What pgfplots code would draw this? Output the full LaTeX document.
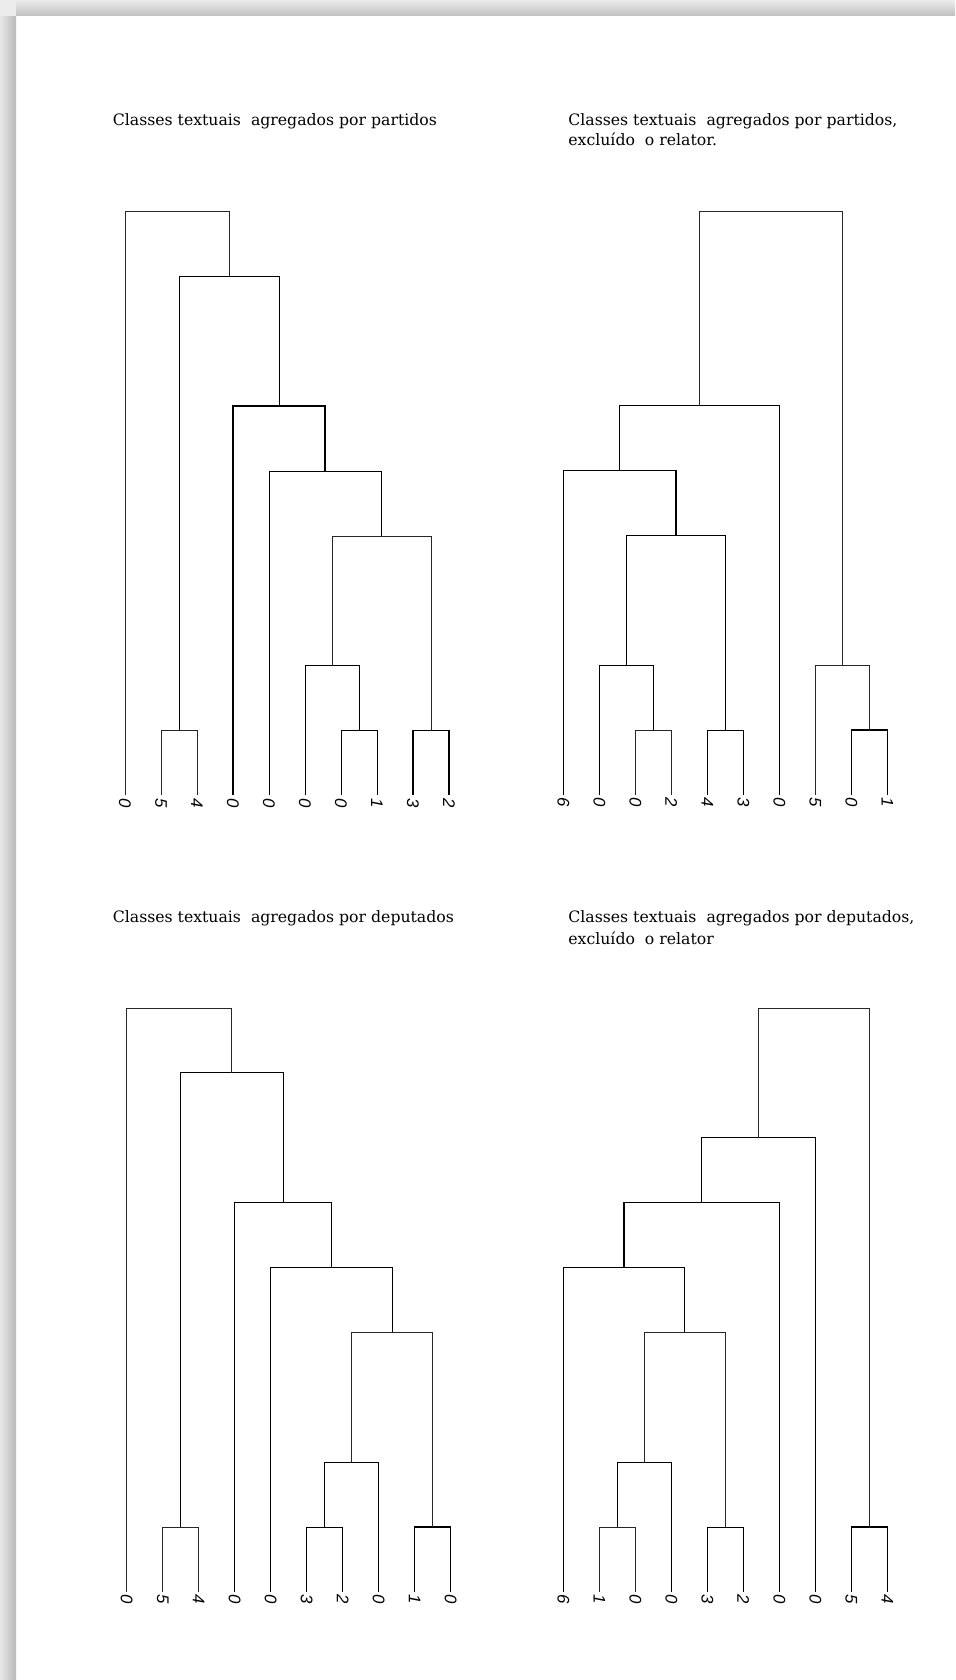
\documentclass[border=0pt]{standalone}
\usepackage{fontspec}
\setmainfont{DejaVu Serif}
\newfontfamily\labfont{Liberation Sans}
\usepackage{pgfplots}
\pgfplotsset{compat=1.18}
\pgfplotsset{dend/.style={
  scale only axis, width=162pt, height=292pt,
  xmin=1, xmax=10, ymin=0, ymax=9, enlargelimits=false, clip=false,
  axis x line*=bottom, hide y axis, x axis line style={draw=none},
  xtick={1,...,10}, major tick length=0pt, xtick style={draw=none},
  xticklabel style={rotate=-90, anchor=west, inner sep=1.2pt,
    font=\labfont\itshape\fontsize{8.4}{8.4}\selectfont},
  cycle list={{black!85, solid, line width=0.75pt, mark=none}},
  anchor=south west}}
\begin{document}
\begin{tikzpicture}[x=1pt,y=1pt]
\useasboundingbox (0,0) rectangle (477.5,840);
\fill[white] (0,0) rectangle (477.5,840);
% page shadow
\shade[left color=gray!18, right color=gray!55] (0,0) rectangle (8,840);
\shade[top color=gray!15, bottom color=gray!50] (0,832) rectangle (477.5,840);
\fill[gray!15] (0,832) rectangle (8,840);

\def\tfont{\fontsize{7.85}{10}\selectfont}
\node[anchor=base west, inner sep=0] at (56.25,777) {\tfont Classes textuais\ \ agregados\ por\ partidos};
\node[anchor=base west, inner sep=0] at (284,777) {\tfont Classes textuais\ \ agregados\ por\ partidos,};
\node[anchor=base west, inner sep=0] at (284,767) {\tfont excluído\ \ o relator.};
\node[anchor=base west, inner sep=0] at (56.25,378.5) {\tfont Classes textuais\ \ agregados\ por\ deputados};
\node[anchor=base west, inner sep=0] at (284,378.5) {\tfont Classes textuais\ \ agregados\ por\ deputados,};
\node[anchor=base west, inner sep=0] at (284,367.5) {\tfont excluído\ \ o relator};

% Top left: por partidos
\begin{axis}[dend, at={(62.5pt,442.25pt)}, xticklabels={0,5,4,0,0,0,0,1,3,2}]
\addplot coordinates {(2,0) (2,1) (3,1) (3,0)};
\addplot coordinates {(7,0) (7,1) (8,1) (8,0)};
\addplot coordinates {(9,0) (9,1) (10,1) (10,0)};
\addplot coordinates {(6,0) (6,2) (7.5,2) (7.5,1)};
\addplot coordinates {(6.75,2) (6.75,4) (9.5,4) (9.5,1)};
\addplot coordinates {(5,0) (5,5) (8.125,5) (8.125,4)};
\addplot coordinates {(4,0) (4,6) (6.5625,6) (6.5625,5)};
\addplot coordinates {(2.5,1) (2.5,8) (5.28,8) (5.28,6)};
\addplot coordinates {(1,0) (1,9) (3.89,9) (3.89,8)};
\end{axis}

% Top right: por partidos, excluido o relator
\begin{axis}[dend, at={(281.65pt,442.5pt)}, xticklabels={6,0,0,2,4,3,0,5,0,1}]
\addplot coordinates {(3,0) (3,1) (4,1) (4,0)};
\addplot coordinates {(5,0) (5,1) (6,1) (6,0)};
\addplot coordinates {(9,0) (9,1) (10,1) (10,0)};
\addplot coordinates {(2,0) (2,2) (3.5,2) (3.5,1)};
\addplot coordinates {(8,0) (8,2) (9.5,2) (9.5,1)};
\addplot coordinates {(2.75,2) (2.75,4) (5.5,4) (5.5,1)};
\addplot coordinates {(1,0) (1,5) (4.125,5) (4.125,4)};
\addplot coordinates {(2.5625,5) (2.5625,6) (7,6) (7,0)};
\addplot coordinates {(4.78,6) (4.78,9) (8.75,9) (8.75,2)};
\end{axis}

% Bottom left: por deputados
\begin{axis}[dend, at={(63.35pt,44pt)}, xticklabels={0,5,4,0,0,3,2,0,1,0}]
\addplot coordinates {(2,0) (2,1) (3,1) (3,0)};
\addplot coordinates {(6,0) (6,1) (7,1) (7,0)};
\addplot coordinates {(9,0) (9,1) (10,1) (10,0)};
\addplot coordinates {(6.5,1) (6.5,2) (8,2) (8,0)};
\addplot coordinates {(7.25,2) (7.25,4) (9.5,4) (9.5,1)};
\addplot coordinates {(5,0) (5,5) (8.375,5) (8.375,4)};
\addplot coordinates {(4,0) (4,6) (6.6875,6) (6.6875,5)};
\addplot coordinates {(2.5,1) (2.5,8) (5.34,8) (5.34,6)};
\addplot coordinates {(1,0) (1,9) (3.92,9) (3.92,8)};
\end{axis}

% Bottom right: por deputados, excluido o relator
\begin{axis}[dend, at={(281.65pt,44pt)}, xticklabels={6,1,0,0,3,2,0,0,5,4}]
\addplot coordinates {(2,0) (2,1) (3,1) (3,0)};
\addplot coordinates {(5,0) (5,1) (6,1) (6,0)};
\addplot coordinates {(9,0) (9,1) (10,1) (10,0)};
\addplot coordinates {(2.5,1) (2.5,2) (4,2) (4,0)};
\addplot coordinates {(3.25,2) (3.25,4) (5.5,4) (5.5,1)};
\addplot coordinates {(1,0) (1,5) (4.375,5) (4.375,4)};
\addplot coordinates {(2.6875,5) (2.6875,6) (7,6) (7,0)};
\addplot coordinates {(4.84,6) (4.84,7) (8,7) (8,0)};
\addplot coordinates {(6.42,7) (6.42,9) (9.5,9) (9.5,1)};
\end{axis}
\end{tikzpicture}
\end{document}
